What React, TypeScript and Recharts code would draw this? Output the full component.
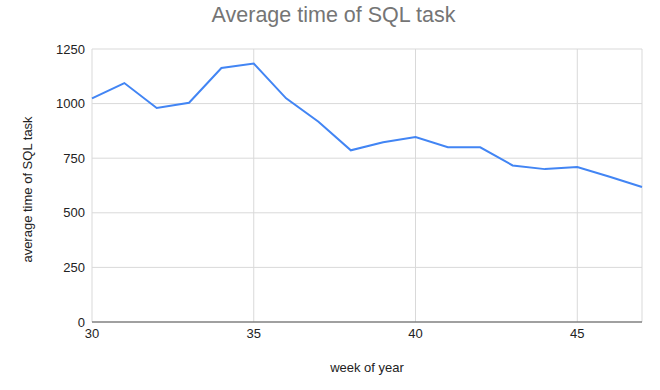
import { LineChart, Line, XAxis, YAxis, CartesianGrid } from 'recharts'

// week of year on x, average time on y
const weeks = [30, 31, 32, 33, 34, 35, 36, 37, 38, 39, 40, 41, 42, 43, 44, 45, 46, 47]
const avgTime = [1024, 1094, 980, 1004, 1163, 1183, 1024, 917, 786, 823, 847, 800, 800, 717, 700, 710, 665, 618]

const xTicks = [30, 35, 40, 45]
const yTicks = [0, 250, 500, 750, 1000, 1250]

const FONT = '"Liberation Sans", Arial, sans-serif'

export default function App() {
  const data = weeks.map((w, i) => ({ week: w, time: avgTime[i] }))

  return (
    <div
      style={{
        position: 'absolute',
        left: 0,
        top: 0,
        width: 660,
        height: 390,
        background: '#fff',
        fontFamily: FONT,
      }}
    >
      <div
        style={{
          position: 'absolute',
          left: 0,
          top: 5,
          width: 667,
          textAlign: 'center',
          fontSize: '21.5px',
          lineHeight: 1,
          color: '#757575',
        }}
      >
        Average time of SQL task
      </div>
      <LineChart
        width={660}
        height={390}
        data={data}
        margin={{ top: 49, right: 18, bottom: 0, left: 0 }}
        style={{ fontFamily: FONT }}
      >
        <CartesianGrid stroke="#d9d9d9" strokeWidth={1} />
        <XAxis
          dataKey="week"
          type="number"
          domain={[30, 47]}
          ticks={xTicks}
          height={68}
          tickSize={0}
          tickMargin={7}
          tick={{ fill: '#222', fontSize: 13 }}
          axisLine={{ stroke: '#555', strokeWidth: 1.2 }}
          label={{ value: 'week of year', position: 'insideBottom', offset: 18, fill: '#222', fontSize: 13 }}
        />
        <YAxis
          domain={[0, 1250]}
          ticks={yTicks}
          width={92}
          tickSize={0}
          tickMargin={7}
          tick={{ fill: '#222', fontSize: 13 }}
          axisLine={false}
          label={{
            value: 'average time of SQL task',
            angle: -90,
            position: 'insideLeft',
            offset: 27,
            dy: 4,
            fill: '#222',
            fontSize: 13,
            style: { textAnchor: 'middle' },
          }}
        />
        <Line
          type="linear"
          dataKey="time"
          stroke="#4285f4"
          strokeWidth={2}
          dot={false}
          isAnimationActive={false}
        />
      </LineChart>
    </div>
  )
}
